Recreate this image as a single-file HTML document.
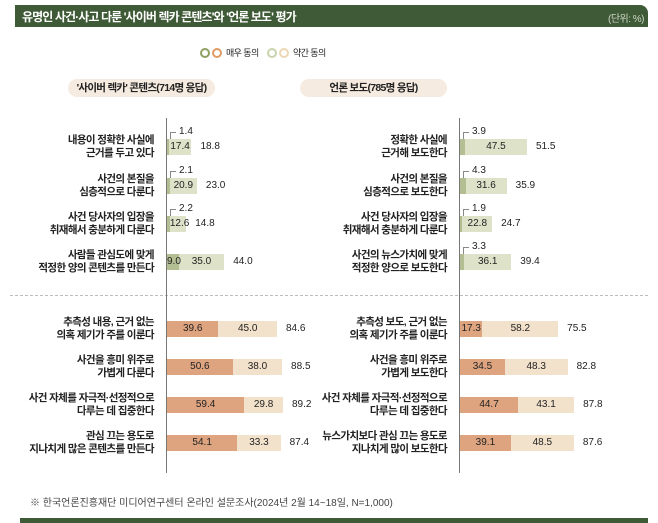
<!DOCTYPE html>
<html><head><meta charset="utf-8">
<style>
body{margin:0;width:658px;height:523px;background:#fff;font-family:"Liberation Sans","Noto Sans CJK KR",sans-serif;position:relative;overflow:hidden;color:#222}
.abs{position:absolute}
</style></head><body>
<div class="abs" style="left:15px;top:5px;width:633px;height:22px;background:#3f5a36;border-top-right-radius:8px"></div>
<div class="abs" style="left:22px;top:8px;color:#fff;font-size:12px;font-weight:bold;letter-spacing:-0.9px">유명인 사건·사고 다룬 '사이버 렉카 콘텐츠'와 '언론 보도' 평가</div>
<div class="abs" style="right:14px;top:10px;color:#cfd6c6;font-size:10px;letter-spacing:-0.5px">(단위: %)</div>
<div class="abs" style="left:200px;top:46px;font-size:9px;letter-spacing:-0.6px;display:flex;align-items:center;gap:2px"><span style="width:6px;height:6px;border:2px solid #8fa160;border-radius:50%"></span><span style="width:6px;height:6px;border:2px solid #e09a63;border-radius:50%"></span><span style="margin-left:2px">매우 동의</span></div>
<div class="abs" style="left:267px;top:46px;font-size:9px;letter-spacing:-0.6px;display:flex;align-items:center;gap:2px"><span style="width:6px;height:6px;border:2px solid #c9d3ad;border-radius:50%"></span><span style="width:6px;height:6px;border:2px solid #eed7b5;border-radius:50%"></span><span style="margin-left:2px">약간 동의</span></div>
<div class="abs" style="left:68px;top:79px;width:147px;height:18px;background:#f5ebe0;border-radius:9px;font-size:10.5px;font-weight:bold;text-align:center;line-height:18px;letter-spacing:-0.7px">'사이버 렉카' 콘텐츠(714명 응답)</div>
<div class="abs" style="left:300px;top:79px;width:147px;height:18px;background:#f5ebe0;border-radius:9px;font-size:10.5px;font-weight:bold;text-align:center;line-height:18px;letter-spacing:-0.7px">언론 보도(785명 응답)</div>
<div class="abs" style="left:10px;top:295px;width:638px;border-top:1px dashed #bbb"></div>
<div class="abs" style="left:30px;top:494px;font-size:10px;color:#444">※ 한국언론진흥재단 미디어연구센터 온라인 설문조사(2024년 2월 14~18일, N=1,000)</div>
<div class="abs" style="left:20px;top:518px;width:628px;height:5px;background:#3f5a36"></div>
<div id="chart"></div>
<script>
const leftLabels=["내용이 정확한 사실에|근거를 두고 있다","사건의 본질을|심층적으로 다룬다","사건 당사자의 입장을|취재해서 충분하게 다룬다","사람들 관심도에 맞게|적정한 양의 콘텐츠를 만든다","추측성 내용, 근거 없는|의혹 제기가 주를 이룬다","사건을 흥미 위주로|가볍게 다룬다","사건 자체를 자극적·선정적으로|다루는 데 집중한다","관심 끄는 용도로|지나치게 많은 콘텐츠를 만든다"];
const leftStrong=[1.4,2.1,2.2,9.0,39.6,50.6,59.4,54.1];
const leftWeak=[17.4,20.9,12.6,35.0,45.0,38.0,29.8,33.3];
const leftTotal=[18.8,23.0,14.8,44.0,84.6,88.5,89.2,87.4];
const rightLabels=["정확한 사실에|근거해 보도한다","사건의 본질을|심층적으로 보도한다","사건 당사자의 입장을|취재해서 충분하게 다룬다","사건의 뉴스가치에 맞게|적정한 양으로 보도한다","추측성 보도, 근거 없는|의혹 제기가 주를 이룬다","사건을 흥미 위주로|가볍게 보도한다","사건 자체를 자극적·선정적으로|다루는 데 집중한다","뉴스가치보다 관심 끄는 용도로|지나치게 많이 보도한다"];
const rightStrong=[3.9,4.3,1.9,3.3,17.3,34.5,44.7,39.1];
const rightWeak=[47.5,31.6,22.8,36.1,58.2,48.3,43.1,48.5];
const rightTotal=[51.5,35.9,24.7,39.4,75.5,82.8,87.8,87.6];
const rowY=[147,186,224,262,329,367,405,443];
const SCALE=1.3;
const chart=document.getElementById('chart');
function mk(tag,style,text){const e=document.createElement(tag);e.className='abs';e.style.cssText=style;if(text!==undefined)e.textContent=text;chart.appendChild(e);return e;}
function panel(axisX,labels,strong,weak,total,side){
  const ax=mk('div',`left:${axisX}px;top:118px;width:1px;height:355px;background:#777`);
  
  
  const x=v=>axisX+1+v*SCALE;
  labels.forEach((lab,i)=>{
    const y=rowY[i];
    const l=mk('div',`right:${658-(axisX-12)}px;top:${y-13}px;text-align:right;font-size:10.5px;font-weight:bold;line-height:13px;letter-spacing:-0.6px;white-space:nowrap`);
    l.innerHTML=lab.replace('|','<br>');
    
    
    const top=i<4;
    const c1=top?'#b3bf93':'#dda47f', c2=top?'#dde2c9':'#f3e2cb';
    const s=mk('div',`left:${x(0)}px;top:${y-8}px;width:${strong[i]*SCALE}px;height:16px;background:${c1}`);
    
    
    const w=mk('div',`left:${x(strong[i])}px;top:${y-8}px;width:${weak[i]*SCALE}px;height:16px;background:${c2}`);
    
    
    const fs='font-size:10px;line-height:16px;';
    if(strong[i]>=5){
      const t=mk('div',`left:${x(0)}px;top:${y-8}px;width:${strong[i]*SCALE}px;text-align:center;${fs}`,strong[i].toFixed(1));
      
      
    } else {
      const t=mk('div',`left:${x(0)+12}px;top:${y-23}px;${fs}`,strong[i].toFixed(1));
      
      
      const b=mk('div',`left:${x(0)+3}px;top:${y-15}px;width:5px;height:6px;border-left:1px solid #888;border-top:1px solid #888`);
      
      
    }
    const tw=mk('div',`left:${x(strong[i])}px;top:${y-8}px;width:${weak[i]*SCALE}px;text-align:center;${fs}`,weak[i].toFixed(1));
    
    
    const tt=mk('div',`left:${x(total[i])+9}px;top:${y-8}px;${fs}`,total[i].toFixed(1));
    
    
  });
}
panel(166,leftLabels,leftStrong,leftWeak,leftTotal,'left');
panel(459,rightLabels,rightStrong,rightWeak,rightTotal,'right');
</script>
</body></html>
